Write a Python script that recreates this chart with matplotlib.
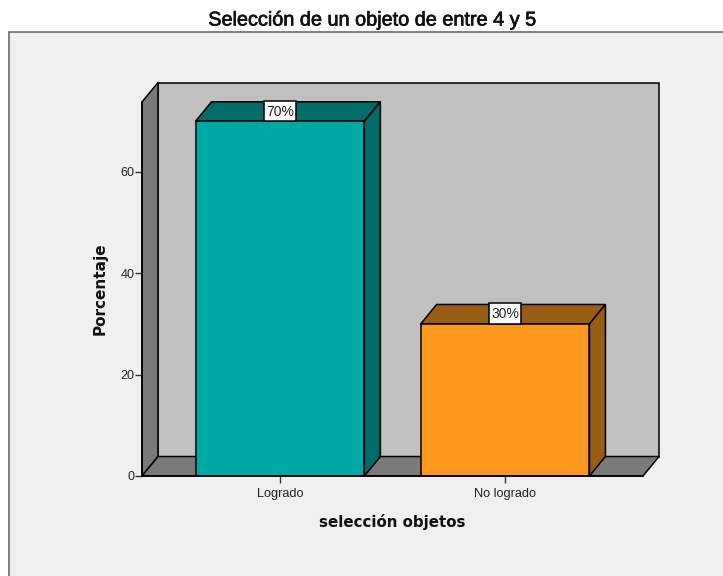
import matplotlib
matplotlib.use("Agg")
import matplotlib.pyplot as plt
import matplotlib.patheffects as pe
from matplotlib.patches import Polygon, Rectangle

categories = ["Logrado", "No logrado"]
percentages = [70, 30]
front_colors = ["#00A8A5", "#FB981D"]
shade_colors = ["#006B69", "#985C12"]
y_ticks = [0, 20, 40, 60]

WIDTH, HEIGHT = 723, 576
bar_width = 0.75
x_min, x_max = -0.613, 1.613
y_max = 73.8
# depth of the 3D box in data units
depth_x = 16 / 225
depth_y = 19.5 / 5.07
label_half_width = 16 / 225


def face(ax, points, color, z):
    ax.add_patch(Polygon(points, closed=True, facecolor=color, edgecolor="black",
                         lw=1.1, joinstyle="miter", zorder=z, clip_on=False))


fig = plt.figure(figsize=(WIDTH / 100, HEIGHT / 100), dpi=100, facecolor="white")
fig.add_artist(Rectangle((8.5 / WIDTH, -0.1), 1, 1.1 - 31.5 / HEIGHT,
                         transform=fig.transFigure, facecolor="#F0F0F0",
                         edgecolor="#777777", lw=1.3, zorder=-1))

ax = fig.add_axes([142 / WIDTH, 1 - 476 / HEIGHT, 501 / WIDTH, 374 / HEIGHT])
ax.set_xlim(x_min, x_max)
ax.set_ylim(0, y_max)
ax.patch.set_visible(False)

# back wall, left wall and floor
face(ax, [(x_min + depth_x, depth_y), (x_max + depth_x, depth_y),
          (x_max + depth_x, y_max + depth_y), (x_min + depth_x, y_max + depth_y)], "#C0C0C0", 1)
face(ax, [(x_min, 0), (x_min + depth_x, depth_y),
          (x_min + depth_x, y_max + depth_y), (x_min, y_max)], "#7A7A7A", 1)
face(ax, [(x_min, 0), (x_max, 0), (x_max + depth_x, depth_y),
          (x_min + depth_x, depth_y)], "#7A7A7A", 1)

for i, value in enumerate(percentages):
    left = i - bar_width / 2
    right = i + bar_width / 2
    face(ax, [(left, value), (right, value), (right + depth_x, value + depth_y),
              (left + depth_x, value + depth_y)], shade_colors[i], 3)
    face(ax, [(right, 0), (right + depth_x, depth_y), (right + depth_x, value + depth_y),
              (right, value)], shade_colors[i], 3)
    ax.bar(i, value, width=bar_width, color=front_colors[i], edgecolor="black",
           linewidth=1.1, zorder=4)
    # white value box sits on the top face of the bar
    face(ax, [(i - label_half_width, value), (i + label_half_width, value),
              (i + label_half_width, value + depth_y + 0.2),
              (i - label_half_width, value + depth_y + 0.2)], "white", 5)
    ax.text(i, value + depth_y / 2, f"{value}%", ha="center", va="center",
            fontsize=10, family="Liberation Sans", color="#222222", zorder=6)

for side in ["top", "right"]:
    ax.spines[side].set_visible(False)
for side in ["left", "bottom"]:
    ax.spines[side].set_linewidth(1.1)
    ax.spines[side].set_zorder(5)

ax.set_xticks(range(len(categories)), categories)
ax.set_yticks(y_ticks)
ax.tick_params(axis="x", length=5, width=1, color="#333333", pad=4, labelsize=9.2, labelcolor="#222222")
ax.tick_params(axis="y", length=5, width=1, color="#333333", pad=0.5, labelsize=9, labelcolor="#222222")
for label in ax.get_xticklabels() + ax.get_yticklabels():
    label.set_family("Liberation Sans")

fig.text(392 / WIDTH, 1 - 522 / HEIGHT, "selección objetos", ha="center", va="center",
         fontsize=10.8, fontweight="bold", family="DejaVu Sans", color="#111111")
fig.text(100 / WIDTH, 1 - 288.5 / HEIGHT, "Porcentaje", ha="center", va="center", rotation=90,
         fontsize=11, fontweight="bold", family="DejaVu Sans", color="#111111")
title = fig.text(373 / WIDTH, 1 - 20 / HEIGHT, "Selección de un objeto de entre 4 y 5", ha="center",
                 va="center", fontsize=14.3, family="Liberation Sans", color="#111111")
title.set_path_effects([pe.withStroke(linewidth=0.5, foreground="#111111")])

fig.savefig("out.png", dpi=100)
